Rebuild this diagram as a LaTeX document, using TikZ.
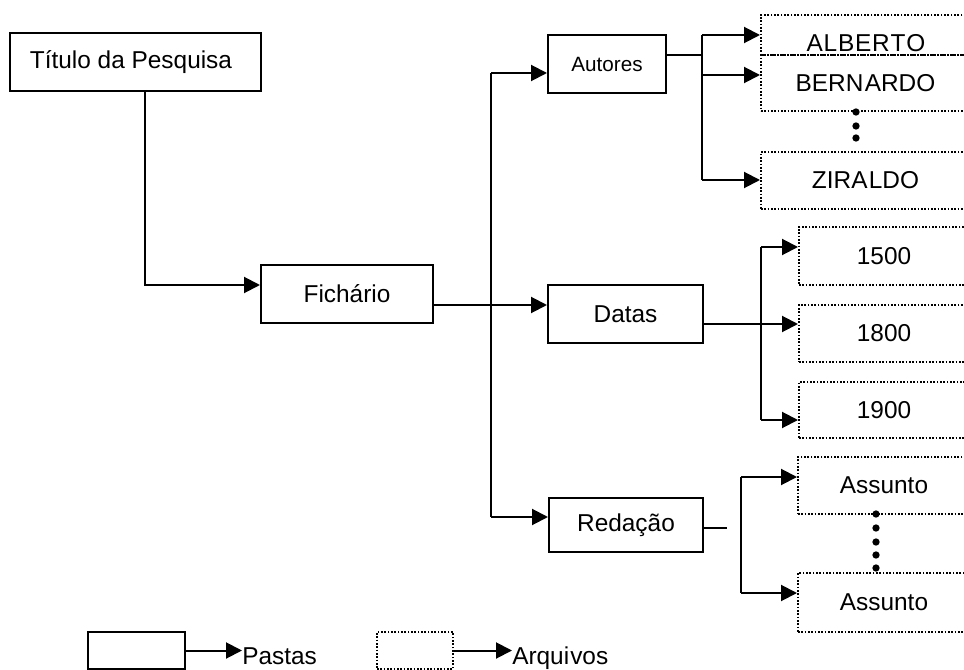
\documentclass[tikz,border=0pt]{standalone}
\usepackage{fontspec}
\setmainfont{Liberation Sans}
\usetikzlibrary{arrows.meta}
\tikzset{
  pasta/.style={draw, line width=1.5pt, inner sep=0pt, font=\fontsize{18.3}{20}\selectfont},
  arquivo/.style={draw, line width=1.5pt, dash pattern=on 1.2pt off 1.3pt, inner sep=0pt, font=\fontsize{18.3}{20}\selectfont},
  conn/.style={line width=1.5pt},
  arr/.style={line width=1.5pt, -{Triangle[length=12pt,width=12pt]}},
  dot/.style={circle, fill, inner sep=0pt, minimum size=5.5pt},
  lbl/.style={inner sep=0pt, font=\fontsize{18.3}{20}\selectfont},
}
\begin{document}
\begin{tikzpicture}[x=0.75pt,y=-0.75pt]
\useasboundingbox (0,0) rectangle (964,670);
\clip (0,0) rectangle (964,670);
% folders (solid)
\node[pasta, minimum width=188.25pt, minimum height=43.5pt] (titulo) at (135.5,62) {};
\node[lbl] (titulotxt) at (131,62) {Título da Pesquisa};
\node[pasta, minimum width=129pt, minimum height=43.5pt] (fich) at (347,294) {Fichário};
\node[pasta, minimum width=88.5pt, minimum height=43.5pt, font=\fontsize{15.5}{18}\selectfont] (autores) at (607,64) {Autores};
\node[pasta, minimum width=116.25pt, minimum height=43.5pt] (datas) at (625.5,314) {Datas};
\node[pasta, minimum width=115.5pt, minimum height=40.5pt] (redacao) at (626,525) {Redação};
% files (dotted)
\node[arquivo, minimum width=156.75pt, minimum height=30pt] (alberto) at (865.5,35) {};
\node[lbl] (albertotxt) at (866,43) {A\kern0.6pt L\kern0.6pt B\kern0.6pt E\kern0.6pt R\kern0.6pt T\kern0.6pt O};
\node[arquivo, minimum width=156.75pt, minimum height=42pt] (bernardo) at (865.5,83) {BERN\kern1pt ARDO};
\node[arquivo, minimum width=156.75pt, minimum height=42.75pt] (ziraldo) at (865.5,180.5) {ZIRA\kern1pt LDO};
\node[arquivo, minimum width=127.5pt, minimum height=43.5pt] (d1500) at (884,256) {1500};
\node[arquivo, minimum width=127.5pt, minimum height=42.75pt] (d1800) at (884,333.5) {1800};
\node[arquivo, minimum width=127.5pt, minimum height=42pt] (d1900) at (884,410) {1900};
\node[arquivo, minimum width=129pt, minimum height=42.75pt] (as1) at (884,485.5) {Assunto};
\node[arquivo, minimum width=129pt, minimum height=44.25pt] (as2) at (884,602.5) {Assunto};
% dots
\node[dot] (p1) at (856,112) {};
\node[dot] (p2) at (856,126) {};
\node[dot] (p3) at (856,138) {};
\node[dot] (q1) at (876,514) {};
\node[dot] (q2) at (876,528) {};
\node[dot] (q3) at (876,542) {};
\node[dot] (q4) at (876,555) {};
\node[dot] (q5) at (876,568) {};
% Titulo -> Fichario
\coordinate (j1) at (145,285);
\draw[arr] (titulo.south -| j1) |- (fich.west |- j1);
% Fichario -> bus
\coordinate (bus) at (491,305);
\coordinate (ja) at (491,73);
\coordinate (jr) at (491,517);
\draw[conn] (fich.east |- bus) -- (bus);
\draw[conn] (ja) -- (jr);
\draw[arr] (bus) -- (datas.west |- bus);
\draw[arr] (ja) -- (autores.west |- ja);
\draw[arr] (jr) -- (redacao.west |- jr);
% Autores -> files
\coordinate (ka) at (702,55);
\coordinate (ka1) at (702,35);
\coordinate (ka2) at (702,75);
\coordinate (ka3) at (702,180);
\draw[conn] (autores.east |- ka) -- (ka);
\draw[conn] (ka1) -- (ka3);
\draw[arr] (ka1) -- (alberto.west |- ka1);
\draw[arr] (ka2) -- (bernardo.west |- ka2);
\draw[arr] (ka3) -- (ziraldo.west |- ka3);
% Datas -> files
\coordinate (kd) at (761,324);
\coordinate (kd1) at (761,247);
\coordinate (kd3) at (761,420);
\draw[conn] (datas.east |- kd) -- (kd);
\draw[conn] (kd1) -- (kd3);
\draw[arr] (kd1) -- (d1500.west |- kd1);
\draw[arr] (kd) -- (d1800.west |- kd);
\draw[arr] (kd3) -- (d1900.west |- kd3);
% Redacao -> files
\coordinate (kr) at (727,528);
\coordinate (kr1) at (741,477);
\coordinate (kr2) at (741,593);
\draw[conn] (redacao.east |- kr) -- (kr);
\draw[conn] (kr1) -- (kr2);
\draw[arr] (kr1) -- (as1.west |- kr1);
\draw[arr] (kr2) -- (as2.west |- kr2);
% legend
\node[pasta, minimum width=72.75pt, minimum height=27.75pt] (legp) at (136.5,650.5) {};
\node[arquivo, minimum width=57pt, minimum height=27.75pt] (lega) at (415,650.5) {};
\node[lbl, anchor=base west] (pastas) at (242,664) {Pastas};
\node[lbl, anchor=base west] (arquivos) at (512,664) {Arqui\kern0.8pt vos};
\draw[arr] (legp.east) -- (legp.east -| pastas.west);
\draw[arr] (lega.east) -- (lega.east -| arquivos.west);
\end{tikzpicture}
\end{document}
